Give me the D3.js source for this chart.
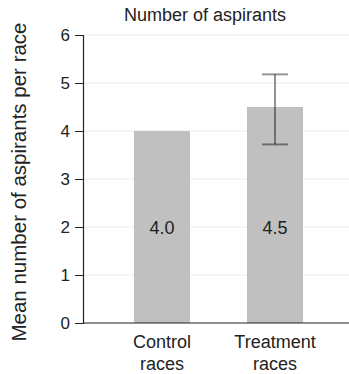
<!DOCTYPE html>
<html>
<head>
<meta charset="utf-8">
<script src="https://cdn.jsdelivr.net/npm/d3@7"></script>
<style>
  body { margin: 0; background: #fff; }
  text { font-family: "Liberation Sans", Arial, Helvetica, sans-serif; fill: #222; }
</style>
</head>
<body>
<div id="chart"></div>
<script>
var categories = ["Control races", "Treatment races"];
var means = [4.0, 4.5];
var errLow = [null, 3.72];
var errHigh = [null, 5.18];
var yTicks = [0, 1, 2, 3, 4, 5, 6];

var width = 349, height = 374;
var margin = { top: 35, right: 0, bottom: 51, left: 83 };

var svg = d3.select("#chart").append("svg")
    .attr("width", width).attr("height", height);

var y = d3.scaleLinear().domain([0, 6]).range([height - margin.bottom, margin.top]);
var x = d3.scaleBand().domain(categories)
    .range([margin.left, 354]).paddingInner(0.504).paddingOuter(0.451);

// gridlines
svg.append("g").selectAll("line")
    .data(yTicks.filter(function (d) { return d > 0; }))
    .enter().append("line")
    .attr("x1", margin.left).attr("x2", width)
    .attr("y1", function (d) { return y(d); })
    .attr("y2", function (d) { return y(d); })
    .attr("stroke", "#ececec").attr("stroke-width", 1);

// bars
var data = categories.map(function (c, i) {
    return { cat: c, mean: means[i], lo: errLow[i], hi: errHigh[i] };
});
svg.append("g").selectAll("rect")
    .data(data)
    .enter().append("rect")
    .attr("x", function (d) { return x(d.cat); })
    .attr("width", x.bandwidth())
    .attr("y", function (d) { return y(d.mean); })
    .attr("height", function (d) { return y(0) - y(d.mean); })
    .attr("fill", "#c0c0c0");

// value labels
svg.append("g").selectAll("text")
    .data(data)
    .enter().append("text")
    .attr("x", function (d) { return x(d.cat) + x.bandwidth() / 2; })
    .attr("y", y(2) + 7)
    .attr("text-anchor", "middle")
    .attr("font-size", 18)
    .text(function (d) { return d.mean.toFixed(1); });

// error bars
var eb = svg.append("g").selectAll("g")
    .data(data.filter(function (d) { return d.lo != null; }))
    .enter().append("g")
    .attr("stroke", "#000").attr("stroke-opacity", 0.42).attr("stroke-width", 2);
eb.append("line")
    .attr("x1", function (d) { return x(d.cat) + x.bandwidth() / 2; })
    .attr("x2", function (d) { return x(d.cat) + x.bandwidth() / 2; })
    .attr("y1", function (d) { return y(d.hi); })
    .attr("y2", function (d) { return y(d.lo); });
eb.selectAll("line.cap")
    .data(function (d) { return [d.lo, d.hi].map(function (v) { return { cat: d.cat, v: v }; }); })
    .enter().append("line").attr("class", "cap")
    .attr("x1", function (d) { return x(d.cat) + x.bandwidth() / 2 - 13; })
    .attr("x2", function (d) { return x(d.cat) + x.bandwidth() / 2 + 13; })
    .attr("y1", function (d) { return y(d.v); })
    .attr("y2", function (d) { return y(d.v); });

// y axis
var yAxis = svg.append("g")
    .attr("transform", "translate(" + margin.left + ",0)")
    .call(d3.axisLeft(y).tickValues(yTicks).tickFormat(d3.format("d")).tickSize(8).tickPadding(5));
yAxis.select(".domain").attr("stroke", "#222").attr("stroke-width", 1.2);
yAxis.selectAll(".tick line").attr("stroke", "#222");
yAxis.selectAll(".tick text").attr("font-size", 17).attr("fill", "#222")
    .style("font-family", "Liberation Sans, Arial, sans-serif");

// x axis line
svg.append("line")
    .attr("x1", margin.left).attr("x2", width)
    .attr("y1", y(0)).attr("y2", y(0))
    .attr("stroke", "#222").attr("stroke-width", 1.2);

// x labels (two lines)
svg.append("g").selectAll("text")
    .data(categories)
    .enter().append("text")
    .attr("y", y(0) + 25)
    .attr("text-anchor", "middle")
    .attr("font-size", 18)
    .each(function (d) {
        var parts = d.split(" ");
        var t = d3.select(this);
        t.append("tspan").attr("x", x(d) + x.bandwidth() / 2).text(parts[0]);
        t.append("tspan").attr("x", x(d) + x.bandwidth() / 2).attr("dy", 22).text(parts[1]);
    });

// title
svg.append("text")
    .attr("x", 205).attr("y", 21)
    .attr("text-anchor", "middle")
    .attr("font-size", 18)
    .text("Number of aspirants");

// y label
svg.append("text")
    .attr("transform", "translate(26," + 182 + ") rotate(-90)")
    .attr("text-anchor", "middle")
    .attr("font-size", 20.5)
    .text("Mean number of aspirants per race");
</script>
</body>
</html>
